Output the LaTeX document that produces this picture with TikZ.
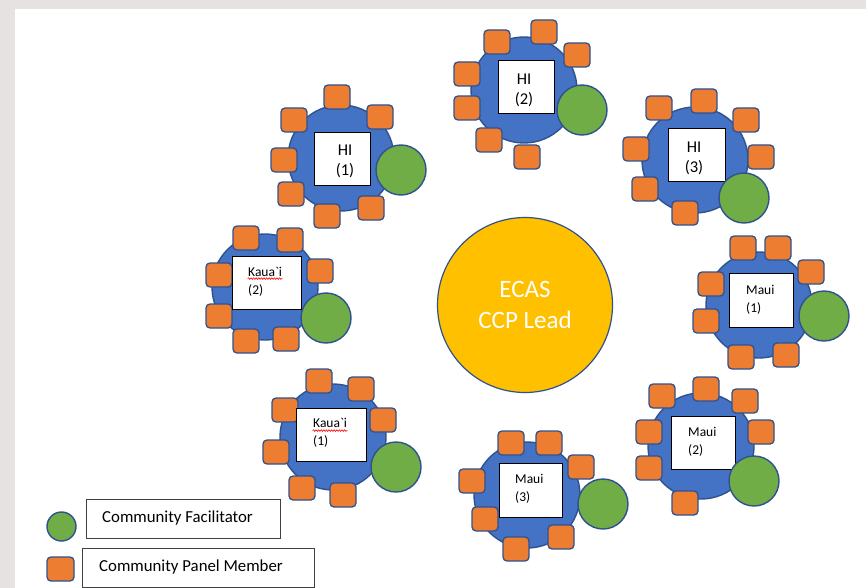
\documentclass[tikz,border=0pt]{standalone}
\usepackage{fontspec}
\setmainfont{Carlito}[Ligatures=TeXOff]
\usetikzlibrary{decorations.pathmorphing}
\definecolor{bggray}{HTML}{E7E2E2}
\definecolor{tblue}{HTML}{4472C4}
\definecolor{tedge}{HTML}{2F528F}
\definecolor{sorange}{HTML}{ED7D31}
\definecolor{fgreen}{HTML}{70AD47}
\definecolor{gold}{HTML}{FFC000}
\newcommand\seatring[2]{\foreach \p [count=\i] in {#2} \node[seat] (#1s\i) at (\p) {};}
\tikzset{
  tbl/.style={circle, draw=tedge, fill=tblue, line width=1.4pt, minimum size=106pt, inner sep=0pt},
  seat/.style={rectangle, rounded corners=4pt, draw=tedge, fill=sorange, line width=1.3pt, minimum width=26pt, minimum height=24pt, inner sep=0pt},
  fac/.style={circle, draw=tedge, fill=fgreen, line width=1.4pt, minimum size=50pt, inner sep=0pt},
  card/.style={draw=black, fill=white, line width=0.8pt, inner sep=0pt},
  hitxt/.style={align=center, inner sep=0pt, font=\fontsize{16.5}{20}\selectfont},
  smtxt/.style={align=left, anchor=west, inner sep=0pt, font=\fontsize{13.5}{18}\selectfont},
  wavy/.style={draw=red, line width=0.6pt, decorate, decoration={snake, amplitude=0.8pt, segment length=2.6pt}},
  legbox/.style={draw=black!75, fill=white, line width=0.8pt, inner sep=0pt},
  legtxt/.style={anchor=west, inner sep=0pt, font=\fontsize{16.8}{18}\selectfont}
}
\begin{document}
\begin{tikzpicture}[x=1pt,y=-1pt]
\useasboundingbox (0,0) rectangle (866,588);
\fill[bggray] (0,0) rectangle (866,588);
\fill[white] (15,9) rectangle (866,588);

% ECAS
\node[circle, draw=tedge, fill=gold, line width=1.2pt, minimum size=175pt, inner sep=0pt] (ecas) at (525,305) {};
\node[text=white, align=center, inner sep=0pt, font=\fontsize{25}{31}\selectfont] (ecast) at (525,305) {ECAS\\CCP Lead};

% HI (1)
\node[tbl] (h1) at (341,158) {};
\seatring{h1}{{337,97},{294,120},{380,117},{284,160},{291,194},{327,216},{371,208}}
\node[card, minimum width=56pt, minimum height=53pt] (h1c) at (342,158.5) {};
\node[hitxt] (h1t) at (345,161) {HI\\(1)};
\node[fac] (h1f) at (401,170) {};

% HI (2)
\node[tbl] (h2) at (524,90) {};
\seatring{h2}{{544,32},{497,42},{577,55},{467,74},{467,108},{489,140},{527,157}}
\node[card, minimum width=56pt, minimum height=53pt] (h2c) at (526,86.5) {};
\node[hitxt] (h2t) at (524,90) {HI\\(2)};
\node[fac] (h2f) at (582,110) {};

% HI (3)
\node[tbl] (h3) at (695,160) {};
\seatring{h3}{{704,101},{659,108},{746,120},{636,149},{761,157},{645,189},{685,213}}
\node[card, minimum width=57pt, minimum height=53pt] (h3c) at (696.5,154.5) {};
\node[hitxt] (h3t) at (694,158) {HI\\(3)};
\node[fac] (h3f) at (744,198) {};

% Kaua`i (2)
\node[tbl] (k2) at (265,287) {};
\seatring{k2}{{246,238},{290,240},{320,271},{219,275},{219,316},{246,341},{286,339}}
\node[card, minimum width=69pt, minimum height=53pt] (k2c) at (266.5,282.5) {};
\node[smtxt] (k2t) at (248,282) {Kaua`i\\(2)};
\draw[wavy] ([xshift=16pt,yshift=-23pt]k2c.north west) -- ++(35,0);
\node[fac] (k2f) at (326,318) {};

% Kaua`i (1)
\node[tbl] (k1) at (333,437) {};
\seatring{k1}{{319,381},{361,389},{285,410},{383,420},{276,452},{302,488},{343,495}}
\node[card, minimum width=70pt, minimum height=53pt] (k1c) at (331,434.5) {};
\node[smtxt] (k1t) at (313,433) {Kaua`i\\(1)};
\draw[wavy] ([xshift=17pt,yshift=-23pt]k1c.north west) -- ++(35,0);
\node[fac] (k1f) at (396,467) {};

% Maui (1)
\node[tbl] (m1) at (759,305) {};
\seatring{m1}{{743,248},{778,248},{811,272},{711,284},{706,321},{741,357},{786,355}}
\node[card, minimum width=64pt, minimum height=54pt] (m1c) at (761,300) {};
\node[smtxt] (m1t) at (746,300) {Maui\\(1)};
\node[fac] (m1f) at (824,316) {};

% Maui (2)
\node[tbl] (m2) at (701,446) {};
\seatring{m2}{{706,389},{662,396},{745,401},{649,432},{761,432},{649,468},{685,503}}
\node[card, minimum width=64pt, minimum height=53pt] (m2c) at (703,442.5) {};
\node[smtxt] (m2t) at (688,442) {Maui\\(2)};
\node[fac] (m2f) at (754,481) {};

% Maui (3)
\node[tbl] (m3) at (527,495) {};
\seatring{m3}{{511,443},{549,443},{581,467},{472,481},{485,519},{516,549},{561,537}}
\node[card, minimum width=63pt, minimum height=54pt] (m3c) at (530.5,490) {};
\node[smtxt] (m3t) at (515,489) {Maui\\(3)};
\node[fac] (m3f) at (603,504) {};

% Legend
\node[fac, minimum size=29pt] (lf) at (61.5,526.5) {};
\node[legbox, minimum width=194pt, minimum height=39pt] (lb1) at (183,518.5) {};
\node[legtxt] (lt1) at (102,518) {Community Facilitator};
\node[seat, minimum width=27pt] (ls) at (60.5,569) {};
\node[legbox, minimum width=232pt, minimum height=39pt] (lb2) at (198,567.5) {};
\node[legtxt] (lt2) at (99,567) {Community Panel Member};
\end{tikzpicture}
\end{document}
